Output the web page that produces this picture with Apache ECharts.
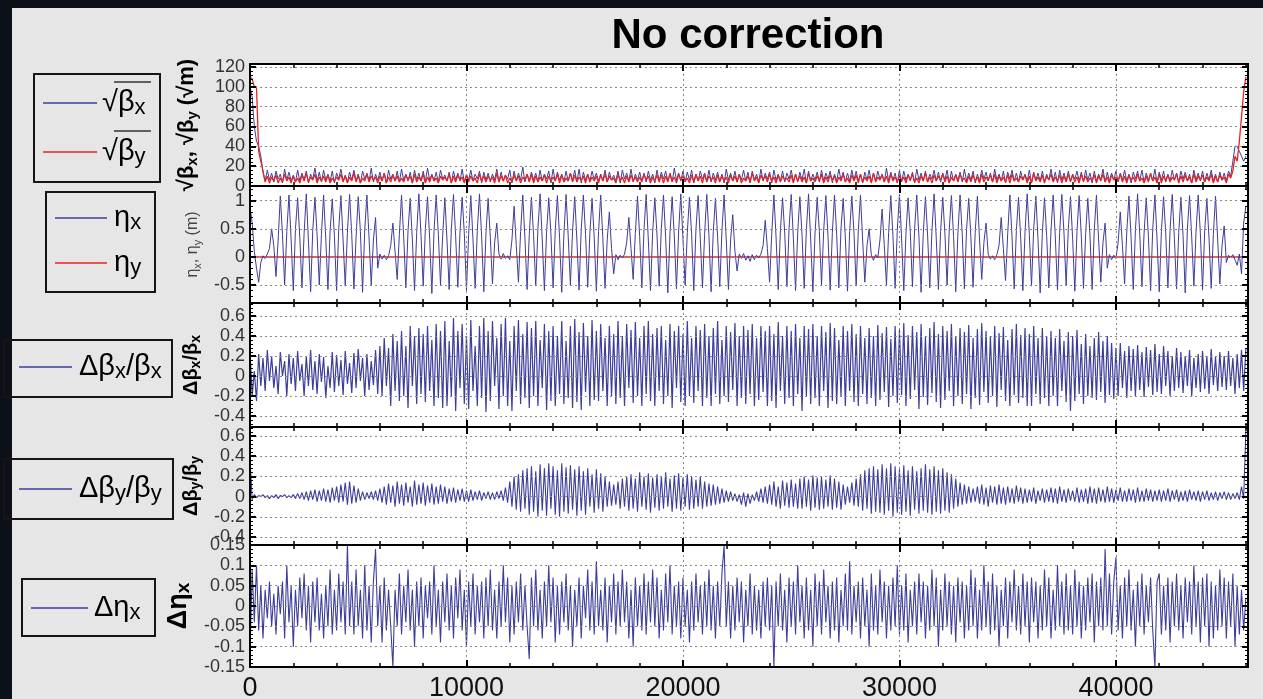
<!DOCTYPE html>
<html>
<head>
<meta charset="utf-8">
<script src="https://cdn.jsdelivr.net/npm/echarts@6/dist/echarts.min.js"></script>
<style>
html,body{margin:0;padding:0;background:#0c1018;overflow:hidden;}
#bg{position:absolute;left:12px;top:8px;right:0;bottom:0;background:#e6e6e6;}
#c{position:absolute;left:0;top:0;width:1263px;height:699px;}
</style>
</head>
<body>
<div id="bg"></div>
<div id="c"></div>
<script>
// ---------------- DATA ----------------
const S_MAX = 46100;                 // ring length shown on the x axis (m)
const STEP_SQRT_BETA = 100;          // sample spacing of the sqrt(beta) traces (m)
const STEP_ETA = 100;                // sample spacing of the dispersion trace (m)
const STEP_DELTA = 100;              // sample spacing of the beating / dispersion-error traces (m)

const xTickLabels = [0, 10000, 20000, 30000, 40000];
const yTicksSqrtBeta = [0, 20, 40, 60, 80, 100, 120];
const yTicksEta = [-0.5, 0, 0.5, 1];
const yTicksDBetaX = [-0.4, -0.2, 0, 0.2, 0.4, 0.6];
const yTicksDBetaY = [-0.4, -0.2, 0, 0.2, 0.4, 0.6];
const yTicksDEta = [-0.15, -0.1, -0.05, 0, 0.05, 0.1, 0.15];

const sqrtBetaX = [
100,90,60,45,40,30,14,5,16,6,13,4,15,7,12,3,17,6,14,5,
11,4,16,5,13,6,15,3,12,7,18,5,14,4,16,6,12,5,15,3,
13,7,17,5,11,4,14,6,16,5,12,3,15,7,13,5,18,4,12,6,
14,5,13,3,16,7,12,5,15,4,17,6,12,5,14,3,16,6,13,5,
15,4,18,6,12,5,14,4,16,7,11,5,14,3,15,6,13,5,17,4,
12,6,16,5,12,7,15,3,14,6,13,4,12,6,17,4,14,5,11,7,
16,3,15,5,13,6,19,4,12,5,14,6,13,4,16,5,12,7,15,3,
17,5,14,6,12,4,15,5,13,6,16,4,17,3,14,6,12,5,15,7,
13,5,12,5,16,4,14,6,11,5,15,3,16,7,13,5,17,4,12,6,
14,5,13,4,15,6,12,3,16,5,14,7,15,5,12,4,18,6,13,5,
15,4,14,6,16,3,12,5,15,7,13,5,16,4,13,6,14,5,12,3,
17,6,13,5,15,4,12,6,16,5,14,3,15,6,12,4,17,5,13,7,
14,3,16,6,12,5,15,4,13,7,16,5,12,4,14,6,17,3,15,5,
12,6,14,4,16,5,13,7,15,3,12,5,17,6,14,4,13,5,16,6,
15,5,12,3,14,6,16,4,13,5,15,7,12,4,18,5,14,6,13,3,
16,4,15,6,12,5,14,3,17,6,13,5,15,4,12,7,16,5,14,4,
13,6,16,3,15,5,12,6,14,4,17,5,13,6,15,3,12,5,16,7,
14,5,13,4,17,6,12,5,15,3,14,7,16,5,13,4,15,6,12,5,
16,3,14,6,13,5,15,4,12,6,17,5,14,3,16,6,13,5,15,4,
12,7,15,5,14,4,16,6,13,3,15,5,12,6,17,4,14,5,13,6,
15,4,13,6,16,5,12,3,14,7,15,5,16,4,13,6,12,5,17,3,
14,6,15,4,12,5,16,6,13,4,15,7,14,5,12,3,16,6,13,5,
15,4,13,6,16,5,12,4,14,6,13,5,15,10,25,40,40,35,30,25,
30];

const sqrtBetaY = [
110,108,100,100,35,25,15,4,10,3,9,5,11,3,8,4,12,5,9,3,
10,4,8,3,11,5,13,4,9,6,12,3,9,5,10,4,11,3,8,5,
9,6,12,4,10,3,9,5,13,4,11,3,8,5,12,4,10,6,9,3,
10,5,13,3,9,4,11,5,10,4,8,4,11,6,10,3,12,4,9,5,
12,3,9,4,11,5,8,3,10,6,9,5,12,3,10,4,11,6,9,3,
11,4,10,5,8,3,12,5,10,4,10,6,9,3,13,4,10,5,11,3,
8,4,11,5,10,3,9,6,12,4,12,3,10,4,9,5,11,3,10,5,
9,5,12,3,11,4,8,5,13,4,11,4,9,6,10,3,12,4,9,5,
10,3,11,5,12,4,10,6,8,3,12,5,9,3,10,4,11,5,9,4,
9,4,12,6,10,3,9,5,11,4,11,3,10,4,13,5,9,3,12,6,
10,5,8,3,11,4,12,5,10,3,12,4,10,6,9,3,11,4,10,5,
9,3,11,5,10,4,12,3,8,5,10,4,13,5,9,3,11,6,10,4,
12,5,9,3,11,4,10,6,8,4,11,3,12,5,10,4,9,3,13,5,
8,4,10,5,12,3,9,4,11,6,10,3,9,5,12,4,8,3,11,5,
11,3,12,4,9,5,10,3,13,4,9,6,11,4,10,3,12,5,9,4,
10,5,9,3,11,6,12,4,8,3,10,5,13,4,9,3,11,5,10,6,
12,4,10,3,9,5,11,4,12,6,8,3,10,4,11,5,9,3,12,4,
9,6,11,4,12,3,10,5,9,4,11,3,12,5,8,4,10,6,11,3,
10,3,13,5,9,4,11,3,10,6,12,4,9,5,11,3,10,4,12,5,
11,4,9,3,12,5,10,4,8,6,11,3,10,5,12,4,9,3,11,6,
9,5,12,4,10,3,11,6,9,4,12,5,8,3,10,4,13,5,9,3,
12,3,10,5,11,4,9,6,12,3,10,4,11,5,9,3,12,4,10,6,
11,4,9,5,12,3,10,4,11,6,9,3,12,8,15,30,25,45,70,95,
110];

const etaX = [
0.9,0.6,0.1,-0.2,-0.45,-0.1,0.02,-0.03,0.05,
0.15,0.5,0.2,-0.35,0.3,1.08,0.4,-0.5,0.45,1.1,0.3,-0.6,0.5,1.05,0.35,-0.55,0.42,1.12,0.28,-0.62,0.48,1.06,0.38,-0.5,0.4,1.1,0.32,-0.58,0.46,1.03,0.36,-0.6,0.5,1.09,0.3,-0.52,0.44,1.11,0.4,-0.57,0.35,1.07,0.45,-0.63,0.48,1.1,0.33,-0.5,0.3,0.7,-0.2,
0.05,-0.04,0.03,-0.05,0.02,
0.2,0.6,0.1,-0.4,0.4,1.1,0.35,-0.55,0.47,1.04,0.3,-0.6,0.43,1.12,0.38,-0.52,0.5,1.07,0.32,-0.65,0.45,1.1,0.4,-0.5,0.38,1.05,0.3,-0.58,0.49,1.11,0.36,-0.54,0.44,1.06,0.42,-0.6,0.4,1.09,0.31,-0.56,0.47,1.12,0.37,-0.62,0.42,1.04,0.35,-0.48,0.25,0.6,
0.05,-0.04,0.06,-0.03,0.02,-0.05,
0.3,0.9,0.2,-0.45,0.45,1.1,0.33,-0.58,0.4,1.06,0.38,-0.52,0.5,1.12,0.3,-0.6,0.44,1.05,0.41,-0.55,0.47,1.09,0.34,-0.63,0.39,1.11,0.36,-0.5,0.46,1.07,0.3,-0.59,0.48,1.1,0.4,-0.54,0.42,1.04,0.35,-0.61,0.45,1.1,0.32,-0.56,0.3,0.8,0.15,-0.3,
0.04,-0.05,0.03,-0.02,0.05,
0.25,0.7,0.15,-0.4,0.42,1.08,0.36,-0.55,0.48,1.11,0.3,-0.6,0.44,1.05,0.39,-0.52,0.5,1.1,0.34,-0.64,0.41,1.07,0.37,-0.57,0.46,1.12,0.31,-0.5,0.43,1.06,0.4,-0.6,0.49,1.09,0.33,-0.55,0.4,1.11,0.38,-0.62,0.45,1.04,0.35,-0.53,0.47,1.1,0.3,-0.58,0.3,0.75,0.1,-0.25,
0.05,-0.03,0.06,-0.06,0.02,-0.08,0.04,-0.05,0.03,-0.02,0.05,
0.2,0.65,0.15,-0.45,0.4,1.1,0.35,-0.58,0.46,1.05,0.42,-0.53,0.5,1.11,0.33,-0.6,0.44,1.07,0.38,-0.56,0.48,1.12,0.3,-0.62,0.41,1.06,0.45,-0.5,0.47,1.09,0.36,-0.59,0.43,1.1,0.4,-0.55,0.5,1.04,0.34,-0.61,0.45,1.08,0.42,-0.52,0.48,1.1,0.3,-0.45,0.2,0.5,
0.03,-0.06,0.04,-0.02,
0.3,0.85,0.2,-0.5,0.43,1.09,0.37,-0.56,0.47,1.11,0.32,-0.6,0.4,1.05,0.44,-0.53,0.5,1.1,0.35,-0.63,0.42,1.07,0.39,-0.55,0.46,1.12,0.33,-0.58,0.45,1.06,0.41,-0.5,0.48,1.09,0.36,-0.62,0.43,1.1,0.4,-0.57,0.49,1.04,0.34,-0.54,0.44,1.08,0.3,-0.4,0.25,0.6,
0.05,-0.04,0.02,-0.05,0.04,
0.2,0.7,0.15,-0.42,0.41,1.1,0.36,-0.57,0.47,1.06,0.33,-0.6,0.44,1.12,0.4,-0.52,0.49,1.08,0.31,-0.64,0.42,1.05,0.38,-0.55,0.46,1.1,0.35,-0.59,0.43,1.11,0.42,-0.51,0.5,1.07,0.32,-0.61,0.45,1.09,0.37,-0.56,0.41,1.04,0.39,-0.58,0.48,1.1,0.3,-0.45,0.25,0.6,-0.2,
0.04,-0.05,0.03,-0.03,
0.25,0.8,0.2,-0.48,0.44,1.08,0.34,-0.58,0.48,1.12,0.4,-0.53,0.42,1.05,0.36,-0.6,0.5,1.1,0.3,-0.62,0.45,1.07,0.41,-0.55,0.47,1.11,0.33,-0.57,0.43,1.06,0.38,-0.64,0.49,1.09,0.35,-0.52,0.44,1.1,0.42,-0.59,0.46,1.04,0.32,-0.56,0.4,1.08,0.3,-0.48,0.2,0.55,-0.1,
0.03,-0.02,0.04,-0.05,-0.15,0.05,-0.3,0.6,0.9];

const etaYKnots = [0, 46000];
const etaYVals = [0, 0];

const dBetaXoverBetaX = [
0.25,-0.2,0.05,-0.25,0.22,-0.1,0.18,-0.15,0.26,-0.05,0.2,-0.12,0.1,-0.18,0.24,0.0,0.15,-0.2,0.22,-0.08,
0.18,-0.15,0.25,-0.05,0.12,-0.2,0.2,-0.1,0.26,-0.14,0.15,-0.18,0.22,-0.06,0.19,-0.22,0.1,-0.12,0.24,-0.16,
0.21,-0.1,0.16,-0.19,0.25,-0.08,0.13,-0.17,0.23,-0.12,0.27,-0.05,0.18,-0.2,0.22,-0.14,0.15,-0.09,0.26,-0.18,
0.3,-0.2,0.38,-0.1,0.28,-0.3,0.42,-0.15,0.35,-0.25,0.45,-0.2,0.3,-0.32,0.5,-0.1,0.4,-0.28,0.48,-0.18,
0.42,-0.26,0.5,-0.15,0.36,-0.3,0.52,-0.22,0.45,-0.32,0.55,-0.3,0.35,-0.2,0.58,-0.35,0.45,-0.12,0.52,-0.28,
0.4,-0.33,0.56,-0.15,0.3,-0.3,0.5,-0.22,0.58,-0.36,0.45,-0.25,0.55,-0.1,0.38,-0.33,0.52,-0.2,0.58,-0.3,
0.35,-0.35,0.5,-0.15,0.56,-0.28,0.42,-0.22,0.54,-0.32,0.48,-0.2,0.55,-0.3,0.36,-0.12,0.52,-0.34,0.45,-0.25,
0.5,-0.3,0.4,-0.18,0.55,-0.28,0.35,-0.22,0.5,-0.32,0.57,-0.26,0.44,-0.34,0.53,-0.16,0.4,-0.3,0.56,-0.24,
0.45,-0.25,0.52,-0.15,0.38,-0.3,0.5,-0.2,0.42,-0.28,0.55,-0.22,0.4,-0.3,0.52,-0.12,0.46,-0.27,0.54,-0.2,
0.38,-0.3,0.5,-0.18,0.55,-0.25,0.42,-0.3,0.48,-0.15,0.5,-0.28,0.36,-0.2,0.52,-0.32,0.45,-0.12,0.5,-0.26,
0.42,-0.3,0.55,-0.2,0.38,-0.27,0.5,-0.15,0.46,-0.3,0.52,-0.22,0.4,-0.3,0.48,-0.18,0.55,-0.28,0.36,-0.2,
0.5,-0.26,0.44,-0.14,0.53,-0.3,0.4,-0.22,0.5,-0.28,0.46,-0.18,0.52,-0.3,0.38,-0.24,0.5,-0.16,0.45,-0.3,
0.5,-0.25,0.42,-0.32,0.54,-0.15,0.4,-0.28,0.5,-0.22,0.45,-0.3,0.52,-0.18,0.38,-0.35,0.5,-0.2,0.47,-0.28,
0.52,-0.22,0.4,-0.3,0.5,-0.15,0.44,-0.32,0.53,-0.25,0.48,-0.28,0.36,-0.2,0.5,-0.3,0.45,-0.15,0.52,-0.26,
0.42,-0.3,0.5,-0.18,0.38,-0.28,0.48,-0.22,0.4,-0.3,0.51,-0.24,0.43,-0.16,0.49,-0.31,0.37,-0.2,0.5,-0.27,
0.46,-0.19,0.53,-0.3,0.41,-0.23,0.5,-0.14,0.44,-0.33,0.52,-0.21,0.39,-0.29,0.48,-0.17,0.54,-0.26,0.42,-0.32,
0.5,-0.24,0.45,-0.15,0.52,-0.3,0.4,-0.2,0.48,-0.28,0.44,-0.18,0.51,-0.33,0.38,-0.22,0.47,-0.29,0.53,-0.16,
0.45,-0.27,0.4,-0.2,0.5,-0.31,0.43,-0.14,0.49,-0.25,0.36,-0.3,0.47,-0.19,0.52,-0.27,0.41,-0.22,0.48,-0.3,
0.42,-0.3,0.5,-0.18,0.38,-0.28,0.48,-0.22,0.4,-0.3,0.45,-0.2,0.38,-0.3,0.47,-0.15,0.35,-0.26,0.44,-0.35,
0.4,-0.25,0.46,-0.18,0.32,-0.28,0.42,-0.2,0.3,-0.22,0.38,-0.24,0.44,-0.16,0.35,-0.27,0.4,-0.19,0.33,-0.23,
0.28,-0.2,0.33,-0.12,0.25,-0.22,0.3,-0.15,0.27,-0.2,0.31,-0.14,0.24,-0.21,0.29,-0.11,0.26,-0.19,0.32,-0.16,
0.22,-0.18,0.3,-0.1,0.25,-0.2,0.2,-0.15,0.28,-0.12,0.24,-0.17,0.2,-0.1,0.26,-0.2,0.18,-0.12,0.22,-0.16,
0.25,-0.13,0.2,-0.18,0.27,-0.09,0.19,-0.15,0.24,-0.11,0.2,-0.14,0.25,-0.1,0.18,-0.18,0.22,-0.12,0.26,-0.15,
0.27];

const dBetaYoverBetaY = [
0.37,-0.03,0.02,-0.01,0.01,0.0,0.02,-0.01,0.01,-0.02,0.01,-0.01,0.02,-0.02,0.01,0.0,0.02,-0.01,0.01,-0.01,
0.02,-0.02,0.03,-0.02,0.04,-0.03,0.05,-0.04,0.06,-0.03,0.07,-0.05,0.06,-0.04,0.08,-0.05,0.07,-0.06,0.09,-0.04,
0.1,-0.06,0.12,-0.05,0.14,-0.08,0.15,-0.07,0.11,-0.06,0.08,-0.04,0.05,-0.03,0.04,-0.02,0.05,-0.03,0.06,-0.04,
0.08,-0.06,0.1,-0.08,0.13,-0.06,0.11,-0.1,0.15,-0.07,0.12,-0.09,0.14,-0.06,0.1,-0.1,0.16,-0.08,0.12,-0.07,
0.14,-0.09,0.11,-0.06,0.13,-0.08,0.1,-0.07,0.12,-0.05,0.1,-0.07,0.08,-0.05,0.09,-0.06,0.07,-0.04,0.08,-0.05,
0.06,-0.05,0.07,-0.04,0.05,-0.03,0.06,-0.04,0.04,-0.02,0.05,-0.03,0.04,-0.03,0.05,-0.02,0.06,-0.04,0.09,-0.06,
0.15,-0.1,0.2,-0.13,0.22,-0.15,0.26,-0.12,0.28,-0.18,0.3,-0.15,0.25,-0.2,0.32,-0.14,0.28,-0.19,0.33,-0.12,
0.3,-0.18,0.26,-0.2,0.33,-0.15,0.29,-0.17,0.31,-0.13,0.27,-0.19,0.3,-0.14,0.25,-0.18,0.28,-0.1,0.22,-0.16,
0.27,-0.12,0.23,-0.15,0.2,-0.1,0.15,-0.09,0.12,-0.08,0.15,-0.12,0.18,-0.1,0.2,-0.14,0.22,-0.12,0.18,-0.15,
0.24,-0.1,0.2,-0.13,0.23,-0.16,0.19,-0.11,0.22,-0.14,0.2,-0.12,0.24,-0.1,0.18,-0.15,0.21,-0.12,0.23,-0.14,
0.19,-0.1,0.22,-0.13,0.2,-0.12,0.17,-0.1,0.2,-0.12,0.15,-0.1,0.13,-0.09,0.12,-0.08,0.1,-0.07,0.08,-0.06,
0.06,-0.05,0.05,-0.04,0.03,-0.05,0.02,-0.08,0.04,-0.1,0.03,-0.07,0.02,-0.04,0.05,-0.05,0.08,-0.06,0.1,-0.07,
0.12,-0.08,0.15,-0.1,0.1,-0.12,0.16,-0.09,0.14,-0.11,0.17,-0.1,0.13,-0.12,0.18,-0.12,0.2,-0.1,0.17,-0.14,
0.21,-0.11,0.19,-0.13,0.2,-0.12,0.17,-0.1,0.21,-0.13,0.18,-0.11,0.15,-0.13,0.12,-0.08,0.1,-0.06,0.14,-0.09,
0.18,-0.1,0.22,-0.14,0.26,-0.12,0.28,-0.17,0.3,-0.15,0.27,-0.16,0.32,-0.18,0.28,-0.14,0.33,-0.2,0.3,-0.16,
0.27,-0.18,0.31,-0.15,0.26,-0.19,0.3,-0.13,0.25,-0.17,0.28,-0.14,0.32,-0.16,0.27,-0.18,0.3,-0.15,0.26,-0.17,
0.28,-0.14,0.24,-0.16,0.22,-0.12,0.18,-0.1,0.14,-0.08,0.12,-0.07,0.1,-0.06,0.08,-0.05,0.1,-0.07,0.12,-0.08,
0.09,-0.1,0.11,-0.06,0.1,-0.08,0.12,-0.07,0.09,-0.08,0.1,-0.06,0.08,-0.07,0.11,-0.05,0.09,-0.07,0.08,-0.06,
0.07,-0.05,0.09,-0.07,0.06,-0.04,0.08,-0.06,0.07,-0.05,0.09,-0.06,0.08,-0.07,0.1,-0.05,0.07,-0.06,0.08,-0.04,
0.06,-0.05,0.09,-0.06,0.07,-0.05,0.08,-0.07,0.1,-0.06,0.08,-0.07,0.09,-0.05,0.07,-0.06,0.1,-0.05,0.08,-0.06,
0.07,-0.04,0.09,-0.05,0.06,-0.05,0.08,-0.04,0.07,-0.06,0.09,-0.05,0.06,-0.05,0.08,-0.04,0.07,-0.05,0.06,-0.04,
0.07,-0.05,0.06,-0.04,0.08,-0.05,0.06,-0.03,0.07,-0.05,0.05,-0.04,0.06,-0.05,0.07,-0.03,0.05,-0.04,0.06,-0.05,
0.05,-0.03,0.06,-0.04,0.04,-0.03,0.05,-0.04,0.04,-0.02,0.05,-0.03,0.04,-0.03,0.03,-0.02,0.04,-0.03,0.1,-0.02,
0.65];

const dEtaX = [
-0.12,0.09,-0.04,0.1,-0.06,0.05,-0.08,0.04,-0.03,0.06,-0.05,0.03,-0.07,0.05,-0.02,0.06,-0.08,0.1,-0.04,0.05,
-0.1,0.04,-0.05,0.07,-0.03,0.08,-0.06,0.05,-0.09,0.06,-0.04,0.07,-0.06,0.03,-0.08,0.05,-0.05,0.09,-0.07,0.04,
-0.06,0.08,-0.04,0.06,-0.07,0.15,-0.05,0.06,-0.07,0.09,-0.05,0.04,-0.08,0.1,-0.06,0.05,-0.09,0.06,0.14,-0.05,
0.05,-0.09,0.07,-0.06,0.04,-0.05,-0.15,0.04,-0.05,0.08,-0.07,0.05,-0.04,0.09,-0.06,0.04,-0.1,0.06,-0.05,0.07,
-0.08,0.05,-0.03,0.06,-0.07,0.1,-0.05,0.04,-0.09,0.06,-0.04,0.08,-0.06,0.05,-0.08,0.07,-0.03,0.09,-0.06,0.04,
-0.1,0.06,-0.05,0.08,-0.07,0.05,-0.04,0.06,-0.08,0.07,-0.05,0.09,-0.06,0.04,-0.08,0.06,-0.05,0.1,-0.04,0.07,
-0.09,0.05,-0.07,0.06,-0.04,0.08,-0.06,0.05,-0.05,-0.13,0.07,-0.05,0.09,-0.06,0.04,-0.08,0.06,-0.05,0.1,-0.04,
0.07,-0.09,0.05,-0.07,0.06,-0.04,0.08,-0.06,0.05,-0.1,0.04,-0.05,0.07,-0.08,0.05,-0.03,0.09,-0.06,0.06,-0.07,
0.11,-0.05,0.04,-0.06,0.07,-0.09,0.05,-0.04,0.08,-0.07,0.06,-0.05,0.09,-0.04,0.06,-0.08,0.04,-0.1,0.07,-0.05,
0.05,-0.06,0.08,-0.07,0.06,-0.04,0.09,-0.05,0.07,-0.08,0.04,-0.06,0.08,-0.04,0.1,-0.07,0.05,-0.05,0.06,-0.08,
0.07,-0.05,0.04,-0.09,0.06,-0.06,0.08,-0.04,0.05,-0.07,0.06,-0.05,0.09,-0.06,0.05,-0.08,0.06,-0.05,0.08,0.15,
-0.05,0.06,-0.08,0.05,-0.06,0.07,-0.04,0.06,-0.09,0.04,-0.05,0.08,-0.07,0.05,-0.06,0.04,-0.08,0.06,-0.05,0.07,
-0.06,0.05,-0.15,0.06,-0.05,0.08,-0.06,0.04,-0.09,0.07,-0.05,0.06,-0.07,0.1,-0.04,0.05,-0.08,0.07,-0.06,0.04,
-0.1,0.08,-0.05,0.06,-0.07,0.09,-0.04,0.05,-0.08,0.06,-0.06,0.07,-0.09,0.04,-0.05,0.08,-0.06,0.11,-0.07,0.05,
-0.04,0.06,-0.08,0.07,-0.05,0.04,-0.1,0.08,-0.06,0.05,-0.07,0.09,-0.04,0.06,-0.08,0.05,-0.06,0.07,-0.05,0.1,
-0.07,0.05,-0.06,0.08,-0.09,0.04,-0.05,0.06,-0.07,0.08,-0.04,0.06,-0.08,0.05,-0.06,0.09,-0.05,0.07,-0.1,0.04,
-0.06,0.08,-0.05,0.06,-0.07,0.05,-0.09,0.07,-0.04,0.06,-0.08,0.05,-0.06,0.09,-0.05,0.07,-0.08,0.04,-0.06,0.1,
-0.05,0.06,-0.07,0.08,-0.06,0.05,-0.1,0.04,-0.05,0.07,-0.08,0.06,-0.04,0.09,-0.06,0.05,-0.07,0.08,-0.05,0.06,
-0.09,0.07,-0.04,0.06,-0.08,0.05,-0.06,0.09,-0.05,0.07,-0.08,0.04,-0.06,0.1,-0.05,0.06,-0.07,0.08,-0.06,0.05,
-0.07,0.09,-0.05,0.06,-0.08,0.05,-0.06,0.07,-0.04,0.08,-0.09,0.06,-0.05,0.07,-0.06,0.14,-0.05,0.08,-0.07,0.06,
0.12,-0.06,0.05,-0.08,0.07,-0.05,0.09,-0.06,0.04,-0.1,0.06,-0.05,0.08,-0.07,0.05,-0.04,0.07,-0.06,-0.15,0.06,
0.08,-0.07,0.05,-0.06,0.07,-0.09,0.06,-0.05,0.08,-0.06,0.05,-0.08,0.07,-0.04,0.06,-0.07,0.1,-0.05,0.06,-0.09,
0.07,-0.05,0.08,-0.1,0.06,-0.08,0.05,-0.06,0.09,-0.05,0.07,-0.08,0.06,-0.05,0.08,-0.1,0.05,-0.07,0.04,-0.06,
0.02];

// ---------------- CHART ----------------
const BLUE = '#3d3d9b';
const RED = '#e52421';
const FONT = 'Liberation Sans';

function pts(arr, step) { return arr.map((v, i) => [i * step, v]); }
function knotPts(xs, ys) { return xs.map((x, i) => [x, ys[i]]); }
function tickFmt(list) {
  return function (v) {
    for (const t of list) { if (Math.abs(v - t) < 1e-6) return String(t); }
    return '';
  };
}

const gridBoxes = [
  { top: 64, height: 122 },
  { top: 186, height: 117 },
  { top: 303, height: 124 },
  { top: 427, height: 118 },
  { top: 545, height: 122 }
];

const nameRichBold = {
  b: { fontSize: 20, fontWeight: 'bold', fontFamily: FONT, color: '#000', lineHeight: 24 },
  s: { fontSize: 14, fontWeight: 'bold', fontFamily: FONT, color: '#000', lineHeight: 8, verticalAlign: 'bottom' }
};
const nameRichBig = {
  b: { fontSize: 22, fontWeight: 'bold', fontFamily: FONT, color: '#000', lineHeight: 26 },
  s: { fontSize: 15, fontWeight: 'bold', fontFamily: FONT, color: '#000', lineHeight: 8, verticalAlign: 'bottom' }
};
const yCfg = [
  { min: 0, max: 123, step: 20, ticks: yTicksSqrtBeta, nameGap: 50,
    name: '{b|√β}{s|x}{b|, √β}{s|y}{b| (√m)}', rich: nameRichBig },
  { min: -0.82, max: 1.26, step: 0.5, ticks: yTicksEta, nameGap: 47,
    name: '{n|η}{t|x}{n|, η}{t|y}{n| (m)}',
    rich: { n: { fontSize: 16, fontFamily: FONT, color: '#444', lineHeight: 20 },
            t: { fontSize: 11, fontFamily: FONT, color: '#444', lineHeight: 6, verticalAlign: 'bottom' } } },
  { min: -0.51, max: 0.73, step: 0.2, ticks: yTicksDBetaX, nameGap: 45,
    name: '{b|Δβ}{s|x}{b|/β}{s|x}', rich: nameRichBold },
  { min: -0.48, max: 0.69, step: 0.2, ticks: yTicksDBetaY, nameGap: 45,
    name: '{b|Δβ}{s|y}{b|/β}{s|y}', rich: nameRichBold },
  { min: -0.15, max: 0.15, step: 0.05, ticks: yTicksDEta, nameGap: 56,
    name: '{c|Δη}{u|x}',
    rich: { c: { fontSize: 27, fontWeight: 'bold', fontFamily: FONT, color: '#000', lineHeight: 30 },
            u: { fontSize: 19, fontWeight: 'bold', fontFamily: FONT, color: '#000', lineHeight: 10, verticalAlign: 'bottom' } } }
];

const grids = [], xAxes = [], yAxes = [];
const dotted = { color: '#8a8a8a', width: 1, type: [2, 3] };
gridBoxes.forEach((g, i) => {
  grids.push({ left: 250, width: 998, top: g.top, height: g.height, show: true,
    backgroundColor: '#ffffff', borderColor: '#000', borderWidth: 2,
    containLabel: false, outerBoundsMode: 'none' });
  const base = { gridIndex: i, type: 'value', min: 0, max: S_MAX, z: 10,
    splitLine: { show: false }, axisLabel: { show: false }, minorTick: { show: false } };
  ['bottom', 'top'].forEach(pos => {
    xAxes.push(Object.assign({}, base, { position: pos, interval: 2000,
      axisLine: { show: true, onZero: false, lineStyle: { color: '#000', width: 2 } },
      axisTick: { show: true, inside: true, length: 4, lineStyle: { color: '#000', width: 1.5 } } }));
    xAxes.push(Object.assign({}, base, { position: pos, interval: 10000,
      axisLine: { show: false, onZero: false },
      axisTick: { show: true, inside: true, length: 7, lineStyle: { color: '#000', width: 2 } },
      splitLine: { show: pos === 'bottom', lineStyle: dotted },
      axisLabel: { show: pos === 'bottom' && i === 4, formatter: tickFmt(xTickLabels),
        fontSize: 27, color: '#111', fontFamily: FONT, margin: 8 } }));
  });
  const c = yCfg[i];
  const ybase = { gridIndex: i, type: 'value', min: c.min, max: c.max,
    minInterval: c.step, maxInterval: c.step, z: 10,
    axisLine: { show: true, onZero: false, lineStyle: { color: '#000', width: 2 } },
    axisTick: { show: true, inside: true, length: 6, lineStyle: { color: '#000', width: 2 } },
    minorTick: { show: true, splitNumber: 5, length: 3, lineStyle: { color: '#000', width: 1 } } };
  yAxes.push(Object.assign({}, ybase, { position: 'left',
    splitLine: { show: true, lineStyle: dotted },
    axisLabel: { show: true, formatter: tickFmt(c.ticks), fontSize: 18, color: '#333', fontFamily: FONT, margin: 5 },
    name: c.name, nameLocation: 'middle', nameRotate: 90, nameGap: c.nameGap,
    nameTextStyle: { rich: c.rich } }));
  yAxes.push(Object.assign({}, ybase, { position: 'right',
    splitLine: { show: false }, axisLabel: { show: false } }));
});

function lineSeries(name, data, xi, yi, color, width, z) {
  return { name, type: 'line', data, xAxisIndex: xi, yAxisIndex: yi, showSymbol: false, symbol: 'none',
    lineStyle: { color, width }, itemStyle: { color }, z, silent: true, animation: false };
}
const series = [
  lineSeries('sqrtBx', pts(sqrtBetaX, STEP_SQRT_BETA), 0, 0, BLUE, 1, 2),
  lineSeries('sqrtBy', pts(sqrtBetaY, STEP_SQRT_BETA), 0, 0, RED, 1.3, 3),
  lineSeries('etay', knotPts(etaYKnots, etaYVals), 4, 2, RED, 1.5, 2),
  lineSeries('etax', pts(etaX, STEP_ETA), 4, 2, BLUE, 1, 3),
  lineSeries('dbx', pts(dBetaXoverBetaX, STEP_DELTA), 8, 4, BLUE, 1.2, 2),
  lineSeries('dby', pts(dBetaYoverBetaY, STEP_DELTA), 12, 6, BLUE, 1.1, 2),
  lineSeries('deta', pts(dEtaX, STEP_DELTA), 16, 8, BLUE, 1.1, 2)
];

// ---- legend boxes (drawn as graphics) ----
const legRich = {
  m: { fontSize: 29, fontFamily: FONT, color: '#333', lineHeight: 32 },
  s: { fontSize: 22, fontFamily: FONT, color: '#555', lineHeight: 12, verticalAlign: 'bottom' }
};
function box(x, y, w, h) {
  return { type: 'rect', shape: { x, y, width: w, height: h }, z: 100,
    style: { fill: 'none', stroke: '#151515', lineWidth: 2 } };
}
function legLine(x1, x2, y, color) {
  return { type: 'line', shape: { x1, y1: y, x2, y2: y }, z: 100, style: { stroke: color, lineWidth: 1.5 } };
}
function legText(x, y, text) {
  return { type: 'text', x, y, z: 100,
    style: { text, rich: legRich, align: 'left', verticalAlign: 'middle', textAlign: 'left', textVerticalAlign: 'middle' } };
}
function bar(x1, x2, y) {
  return { type: 'line', shape: { x1, y1: y, x2, y2: y }, z: 100, style: { stroke: '#333', lineWidth: 1.5 } };
}
const graphics = [
  { type: 'text', x: 748, y: 36, z: 100,
    style: { text: 'No correction', fontSize: 42, fontWeight: 'bold', fontFamily: FONT, fill: '#000',
      align: 'center', verticalAlign: 'middle', textAlign: 'center', textVerticalAlign: 'middle' } },
  box(34, 74, 126, 108),
  legLine(43, 97, 103, BLUE), legText(102, 103, '{m|√β}{s|x}'), bar(114, 151, 82),
  legLine(43, 97, 152, RED), legText(102, 152, '{m|√β}{s|y}'), bar(114, 151, 131),
  box(46, 192, 109, 100),
  legLine(55, 107, 218, BLUE), legText(114, 218, '{m|η}{s|x}'),
  legLine(55, 107, 263, RED), legText(114, 263, '{m|η}{s|y}'),
  box(4, 340, 168, 57),
  legLine(19, 72, 367, BLUE), legText(79, 367, '{m|Δβ}{s|x}{m|/β}{s|x}'),
  box(4, 459, 169, 60),
  legLine(19, 72, 489, BLUE), legText(79, 489, '{m|Δβ}{s|y}{m|/β}{s|y}'),
  box(22, 579, 133, 57),
  legLine(31, 88, 608, BLUE), legText(94, 608, '{m|Δη}{s|x}')
];

const chart = echarts.init(document.getElementById('c'), null, { renderer: 'canvas' });
chart.setOption({
  backgroundColor: 'transparent',
  animation: false,
  grid: grids,
  xAxis: xAxes,
  yAxis: yAxes,
  series,
  graphic: { elements: graphics }
});
</script>
</body>
</html>
